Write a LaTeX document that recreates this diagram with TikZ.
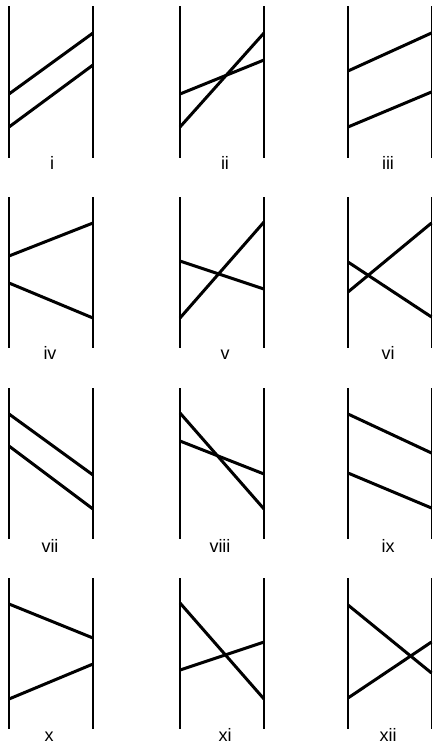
\documentclass[tikz,border=0pt]{standalone}
\usepackage{fontspec}
\setmainfont{Liberation Sans}
\tikzset{
  rail/.style={line width=1.8pt},
  wire/.style={line width=3pt},
  lab/.style={anchor=base, inner sep=0pt, font=\fontsize{18}{20}\selectfont}
}
\begin{document}
\begin{tikzpicture}[x=1pt,y=-1pt]
\useasboundingbox (0,0) rectangle (433,744);
% rails: columns at x = 9/93, 180/264, 348/431.5
\foreach \yt/\yb [count=\r] in {6/158, 197/348, 388/539, 578/729}{
  \foreach \xl/\xr [count=\c] in {9/93, 180/264, 348/431.5}{
    \coordinate (t\r\c l) at (\xl,\yt); \coordinate (b\r\c l) at (\xl,\yb);
    \coordinate (t\r\c r) at (\xr,\yt); \coordinate (b\r\c r) at (\xr,\yb);
    \draw[rail] (t\r\c l) -- (b\r\c l);
    \draw[rail] (t\r\c r) -- (b\r\c r);
  }
}
% panel i
\coordinate (a1) at (9,94);   \coordinate (a2) at (93,33);
\coordinate (a3) at (9,127);  \coordinate (a4) at (93,65);
\draw[wire] (a1) -- (a2); \draw[wire] (a3) -- (a4);
% panel ii
\coordinate (b1) at (180,94);  \coordinate (b2) at (264,60);
\coordinate (b3) at (180,127); \coordinate (b4) at (264,33);
\draw[wire] (b1) -- (b2); \draw[wire] (b3) -- (b4);
% panel iii
\coordinate (c1) at (348,71);  \coordinate (c2) at (431.5,33);
\coordinate (c3) at (348,127); \coordinate (c4) at (431.5,92);
\draw[wire] (c1) -- (c2); \draw[wire] (c3) -- (c4);
% panel iv
\coordinate (d1) at (9,256);  \coordinate (d2) at (93,223);
\coordinate (d3) at (9,283);  \coordinate (d4) at (93,318);
\draw[wire] (d1) -- (d2); \draw[wire] (d3) -- (d4);
% panel v
\coordinate (e1) at (180,261); \coordinate (e2) at (264,289);
\coordinate (e3) at (180,318); \coordinate (e4) at (264,222);
\draw[wire] (e1) -- (e2); \draw[wire] (e3) -- (e4);
% panel vi
\coordinate (f1) at (348,262); \coordinate (f2) at (431.5,317);
\coordinate (f3) at (348,292); \coordinate (f4) at (431.5,223);
\draw[wire] (f1) -- (f2); \draw[wire] (f3) -- (f4);
% panel vii
\coordinate (g1) at (9,414);  \coordinate (g2) at (93,475);
\coordinate (g3) at (9,446);  \coordinate (g4) at (93,509);
\draw[wire] (g1) -- (g2); \draw[wire] (g3) -- (g4);
% panel viii
\coordinate (h1) at (180,413); \coordinate (h2) at (264,509);
\coordinate (h3) at (180,441); \coordinate (h4) at (264,474);
\draw[wire] (h1) -- (h2); \draw[wire] (h3) -- (h4);
% panel ix
\coordinate (k1) at (348,414); \coordinate (k2) at (431.5,453);
\coordinate (k3) at (348,473); \coordinate (k4) at (431.5,508);
\draw[wire] (k1) -- (k2); \draw[wire] (k3) -- (k4);
% panel x
\coordinate (m1) at (9,604);  \coordinate (m2) at (93,638);
\coordinate (m3) at (9,699);  \coordinate (m4) at (93,664);
\draw[wire] (m1) -- (m2); \draw[wire] (m3) -- (m4);
% panel xi
\coordinate (n1) at (180,603); \coordinate (n2) at (264,699);
\coordinate (n3) at (180,670); \coordinate (n4) at (264,642);
\draw[wire] (n1) -- (n2); \draw[wire] (n3) -- (n4);
% panel xii
\coordinate (p1) at (348,605); \coordinate (p2) at (431.5,673);
\coordinate (p3) at (348,698); \coordinate (p4) at (431.5,642);
\draw[wire] (p1) -- (p2); \draw[wire] (p3) -- (p4);
% labels
\node[lab] (L1)  at (52,169)  {i};
\node[lab] (L2)  at (225,169) {ii};
\node[lab] (L3)  at (388,169) {iii};
\node[lab] (L4)  at (50,359)  {iv};
\node[lab] (L5)  at (225,359) {v};
\node[lab] (L6)  at (388,359) {vi};
\node[lab] (L7)  at (50,552)  {vii};
\node[lab] (L8)  at (220,552) {viii};
\node[lab] (L9)  at (388,552) {ix};
\node[lab] (L10) at (49,741)  {x};
\node[lab] (L11) at (225,741) {xi};
\node[lab] (L12) at (388,741) {xii};
\end{tikzpicture}
\end{document}
